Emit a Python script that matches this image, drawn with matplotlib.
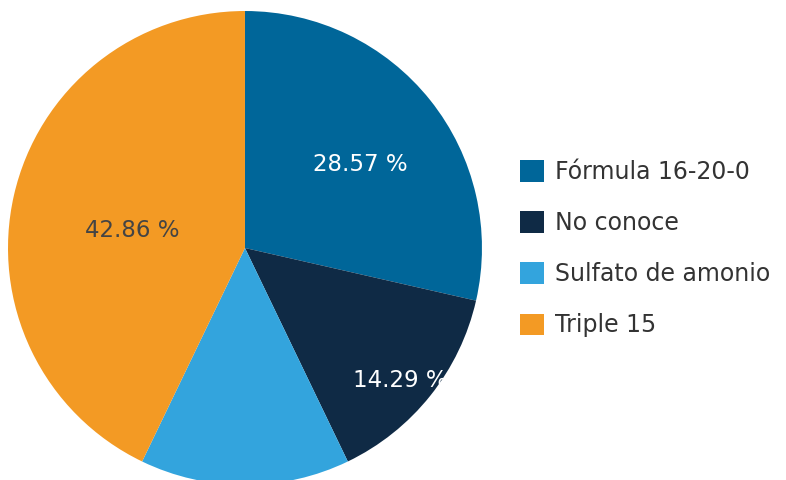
import numpy as np
import matplotlib.pyplot as plt
from matplotlib.patches import Patch

# datos del gráfico
categorias = ['Fórmula 16-20-0', 'No conoce', 'Sulfato de amonio', 'Triple 15']
porcentajes = [28.57, 14.29, 14.29, 42.86]
etiquetas = ['28.57 %', '14.29 %', '', '42.86 %']
colores = ['#006699', '#0F2A45', '#33A4DD', '#F39A24']
color_texto = ['white', 'white', 'white', '#444444']
distancia = [0.62, 0.84, 0.6, 0.49]

plt.rcParams['font.family'] = ['DejaVu Sans']

fig = plt.figure(figsize=(7.86, 4.8), dpi=100)
ax = fig.add_axes([0.01018, -0.0104, 0.603, 0.9875])

wedges, _ = ax.pie(porcentajes, colors=colores, startangle=90, counterclock=False,
                   radius=1, wedgeprops=dict(linewidth=0))

# etiquetas de porcentaje (un poco por debajo del punto medio)
for w, txt, col, d in zip(wedges, etiquetas, color_texto, distancia):
    if not txt:
        continue
    ang = np.deg2rad((w.theta1 + w.theta2) / 2)
    ax.text(d * np.cos(ang), d * np.sin(ang) - 0.035, txt, ha='center', va='center',
            fontsize=16.5, color=col)

ax.set_xlim(-1, 1)
ax.set_ylim(-1, 1)
ax.set_aspect('equal')
ax.axis('off')

handles = [Patch(facecolor=c, edgecolor='none') for c in colores]
fig.legend(handles, categorias, loc='center left', bbox_to_anchor=(0.6615, 0.482),
           frameon=False, fontsize=17, handlelength=1.02, handleheight=1.02,
           handletextpad=0.47, labelspacing=1.15, labelcolor='#333333',
           borderpad=0, borderaxespad=0)

plt.savefig('out.png', dpi=100)
